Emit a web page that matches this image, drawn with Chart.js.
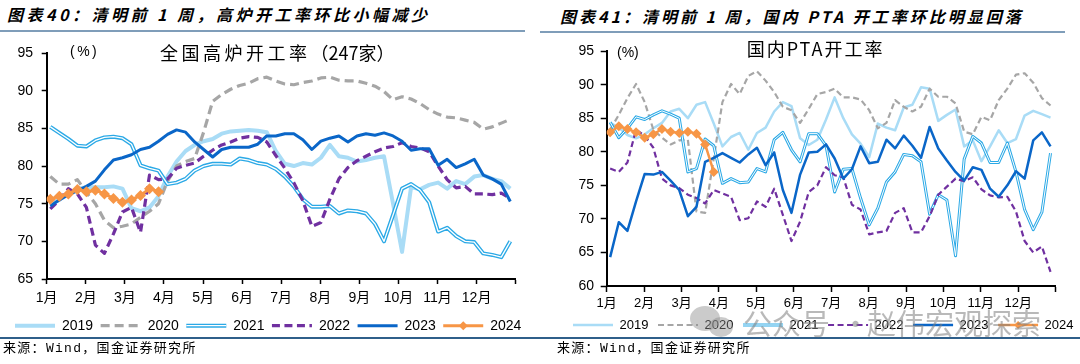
<!DOCTYPE html>
<html lang="zh-CN">
<head>
<meta charset="UTF-8"/>
<script src="https://cdn.jsdelivr.net/npm/chart.js"></script>
<style>
  body { margin:0; width:1080px; height:364px; background:#fff; position:relative; overflow:hidden; }
  canvas { position:absolute; top:36px; }
  .txt { position:absolute; white-space:nowrap; color:#000; font-family:"Noto Sans CJK SC", sans-serif; }
  .title { font-size:16px; line-height:16px; font-weight:bold; font-style:italic; letter-spacing:3.5px; }
  .rule { position:absolute; }
  .src { font-family:"Liberation Mono", "Noto Sans CJK SC", monospace; font-size:13px; line-height:13px; letter-spacing:1.3px; }
  .wm { position:absolute; white-space:nowrap; color:rgba(128,128,128,0.55); font-family:"Noto Sans CJK SC", sans-serif; font-size:29px; line-height:29px; }
  .bub { position:absolute; border-radius:50%; background:rgba(140,140,140,0.45); }
</style>
</head>
<body>
<div class="txt title" style="left:7px;top:6px">图表40：清明前 1 周，高炉开工率环比小幅减少</div>
<div class="txt title" style="left:560px;top:7.5px;letter-spacing:3px">图表41：清明前 1 周，国内 PTA 开工率环比明显回落</div>
<div class="rule" style="left:0;top:30px;width:525px;height:1.5px;background:#7f9db9"></div>
<div class="rule" style="left:540px;top:31px;width:525px;height:1.5px;background:#7f9db9"></div>

<canvas id="bfChart" width="540" height="310" style="left:0"></canvas>
<canvas id="ptaChart" width="560" height="310" style="left:540px"></canvas>

<div class="txt" style="left:70px;top:44px;font-family:Arial,'Liberation Sans',sans-serif;font-size:14px;line-height:14px;letter-spacing:2.5px">(%)</div>
<div class="txt" style="left:160px;top:42.7px;font-size:18px;line-height:18px"><span style="letter-spacing:3.5px">全国高炉开工率</span>（247家）</div>
<div class="txt" style="left:617px;top:44.7px;font-family:Arial,'Liberation Sans',sans-serif;font-size:14px;line-height:14px">(%)</div>
<div class="txt" style="left:746.7px;top:39.3px;font-size:18px;line-height:18px;letter-spacing:2px">国内PTA开工率</div>

<div class="rule" style="left:0;top:337px;width:1080px;height:1.5px;background:#2f5f8a"></div>
<div class="txt src" style="left:3px;top:342px">来源：Wind，国金证券研究所</div>
<div class="txt src" style="left:557px;top:342px">来源：Wind，国金证券研究所</div>

<div class="bub" style="left:690px;top:306px;width:30px;height:25px"></div>
<div class="bub" style="left:709px;top:317px;width:24px;height:20px"></div>
<div class="wm" style="left:743px;top:308px">公众号</div>
<div class="wm" style="left:841px;top:308px">·</div>
<div class="wm" style="left:867px;top:308px">赵伟宏观探索</div>

<script>
const monthLabels = ['1月', '2月', '3月', '4月', '5月', '6月', '7月', '8月', '9月', '10月', '11月', '12月'];
const yearLabels = ['2019', '2020', '2021', '2022', '2023', '2024'];

// 全国高炉开工率（247家），周度，%
const bf2019 = [75.0, 75.5, 76.3, 77.0, 77.2, 77.2, 77.2, 77.3, 77.0, 74.4, 74.0, 74.5, 76.0, 78.6, 80.6, 82.0, 82.8, 83.3, 83.6, 84.3,
  84.6, 84.7, 84.8, 84.7, 84.5, 82.0, 80.3, 80.0, 80.4, 80.2, 81.1, 82.8, 81.3, 81.1, 80.6, 80.8, 81.1, 81.3, 75.0, 68.6,
  77.2, 76.9, 77.5, 77.8, 77.0, 78.0, 77.6, 78.6, 78.8, 78.3, 78.0, 77.0];
const bf2020 = [78.6, 77.6, 77.6, 78.2, 76.5, 75.0, 72.8, 71.8, 72.0, 72.3, 73.2, 74.0, 75.0, 78.0, 80.0, 80.6, 81.0, 84.5, 88.6, 89.5,
  90.2, 90.7, 91.0, 91.6, 91.8, 91.3, 90.9, 90.8, 91.1, 91.3, 91.7, 91.8, 91.4, 91.3, 91.3, 91.0, 90.6, 89.9, 88.8, 89.2,
  88.9, 88.3, 87.5, 86.9, 86.5, 86.4, 86.1, 85.8, 84.9, 85.2, 85.7, 86.2];
const bf2021 = [85.2, 84.4, 83.6, 82.7, 82.6, 83.4, 83.8, 83.9, 83.7, 82.9, 80.1, 79.7, 79.4, 77.6, 77.8, 78.3, 79.4, 80.0, 80.3, 80.3,
  80.2, 81.0, 80.8, 80.4, 80.2, 79.6, 78.6, 77.3, 75.6, 74.6, 74.6, 74.7, 73.7, 74.1, 74.0, 73.7, 72.3, 70.0, 73.5, 77.0,
  77.6, 76.8, 75.2, 71.3, 71.8, 70.7, 70.0, 69.9, 68.4, 68.2, 67.9, 70.0];
const bf2022 = [74.3, 75.5, 77.0, 76.3, 74.5, 69.5, 68.4, 71.0, 73.9, 74.5, 71.2, 78.8, 78.2, 78.3, 79.7, 80.1, 80.4, 81.3, 82.1, 82.8,
  83.2, 83.7, 83.9, 83.8, 83.2, 81.4, 79.7, 77.8, 75.4, 72.0, 72.5, 75.6, 78.3, 79.8, 80.7, 81.3, 81.9, 82.4, 82.6, 83.1,
  82.6, 82.4, 81.9, 80.0, 78.2, 77.1, 77.3, 76.3, 76.3, 76.2, 76.4, 75.7];
const bf2023 = [74.7, 75.5, 76.2, 76.7, 77.3, 78.0, 79.5, 80.8, 81.1, 81.5, 82.2, 82.5, 83.3, 84.2, 84.8, 84.5, 83.2, 82.2, 81.2, 82.2,
  82.5, 82.5, 82.5, 82.9, 84.0, 84.0, 84.3, 84.3, 83.5, 82.2, 83.3, 83.7, 84.0, 83.2, 84.0, 84.3, 84.1, 84.4, 84.0, 83.3,
  82.1, 82.3, 82.3, 80.1, 80.9, 79.8, 80.3, 80.9, 78.8, 78.3, 77.6, 75.3];
const bf2024 = [75.6, 76.0, 76.3, 76.9, 76.6, 76.8, 76.3, 75.7, 75.2, 75.5, 76.1, 77.0, 76.6];

// 国内PTA开工率，周度，%
const pta2019 = [84.3, 83.6, 82.5, 82.0, 82.6, 83.5, 84.3, 86.0, 86.4, 85.0, 87.0, 87.4, 84.2, 80.8, 82.2, 82.8, 80.3, 82.8, 83.6, 86.0,
  87.4, 86.8, 82.0, 81.0, 81.8, 84.8, 88.1, 85.0, 82.6, 81.2, 79.2, 84.2, 83.6, 83.2, 86.6, 87.0, 89.6, 89.4, 84.6, 85.5,
  86.3, 80.8, 81.7, 78.6, 80.8, 83.2, 81.3, 81.9, 85.4, 86.1, 85.6, 85.1];
const pta2020 = [83.3, 85.5, 88.0, 90.1, 87.4, 83.3, 82.1, 81.1, 81.7, 81.8, 71.1, 70.9, 79.0, 87.4, 90.1, 88.6, 91.3, 92.0, 90.6, 88.9,
  86.7, 86.2, 84.3, 86.4, 88.6, 88.9, 89.4, 88.1, 88.1, 87.8, 86.2, 83.5, 84.3, 87.7, 86.7, 86.0, 86.7, 89.4, 88.2, 88.2,
  87.2, 83.0, 82.6, 85.2, 84.7, 87.7, 89.4, 91.5, 91.7, 90.3, 88.0, 86.9];
const pta2021 = [84.4, 82.1, 83.5, 85.2, 84.8, 85.5, 86.1, 85.6, 85.0, 77.0, 77.5, 81.9, 80.9, 75.3, 76.0, 75.4, 75.5, 77.5, 77.0, 81.8,
  82.9, 80.3, 78.5, 82.7, 82.7, 80.9, 74.0, 77.4, 77.5, 73.1, 69.1, 71.6, 75.5, 77.0, 79.6, 79.4, 78.5, 70.7, 73.6, 72.8,
  64.5, 78.9, 82.3, 81.3, 78.4, 78.4, 81.3, 77.0, 71.4, 68.4, 71.0, 79.8];
const pta2022 = [77.5, 77.0, 78.4, 83.3, 82.4, 80.6, 76.0, 75.0, 74.6, 73.6, 73.1, 72.3, 74.3, 73.8, 73.3, 69.8, 70.1, 72.6, 71.8, 74.5,
  70.6, 66.7, 69.6, 74.0, 75.0, 77.7, 76.5, 76.2, 72.1, 71.4, 67.7, 68.0, 68.2, 70.9, 71.6, 68.0, 68.0, 70.4, 73.6, 74.8,
  76.0, 75.6, 76.2, 74.4, 73.5, 73.2, 73.3, 71.1, 66.7, 65.0, 65.9, 62.1];
const pta2023 = [64.3, 69.5, 68.2, 72.6, 76.7, 76.6, 77.0, 75.7, 74.3, 70.4, 71.8, 78.5, 79.1, 79.8, 79.1, 78.4, 79.6, 80.6, 78.0, 79.9,
  74.3, 70.9, 76.6, 79.9, 80.0, 81.1, 79.0, 76.0, 77.4, 80.8, 78.3, 78.5, 81.8, 80.5, 82.4, 80.9, 79.1, 83.7, 80.5, 78.7,
  77.0, 75.7, 77.7, 77.3, 74.5, 73.3, 75.0, 77.1, 76.0, 81.7, 82.9, 80.8];
const pta2024 = [82.9, 83.8, 83.4, 82.9, 82.1, 82.6, 83.4, 83.0, 82.8, 83.0, 82.7, 81.1, 77.0];

const yearColors = ['#a9dcf6', '#a6a6a6', '#2ba9e6', '#7030a0', '#0a66c8', '#f79646'];

Chart.defaults.font.family = "Arial, 'Liberation Sans', 'Noto Sans CJK SC', sans-serif";

// week i of the year -> position on a 0..12 month axis
const weekX = i => (i + 0.4) * 12 / 52;
const toPoints = arr => arr.map((v, i) => ({x: weekX(i), y: v}));

function makeDatasets(series, st) {
  const base = {fill: false, pointRadius: 0, pointHoverRadius: 0, tension: 0, borderJoinStyle: 'round', yAxisID: 'y'};
  return [
    {...base, label: yearLabels[0], data: toPoints(series[0]), borderColor: yearColors[0], borderWidth: st.pale, order: 6},
    {...base, label: yearLabels[1], data: toPoints(series[1]), borderColor: yearColors[1], borderWidth: st.dash, borderDash: st.greyDash, order: 5},
    {...base, label: yearLabels[2], data: toPoints(series[2]), borderColor: yearColors[2], borderWidth: st.dbl, order: 4},
    {...base, label: '2021-inner', data: toPoints(series[2]), borderColor: '#ffffff', borderWidth: st.dblInner, order: 3},
    {...base, label: yearLabels[3], data: toPoints(series[3]), borderColor: yearColors[3], borderWidth: st.dash, borderDash: st.purpleDash, order: 2},
    {...base, label: yearLabels[4], data: toPoints(series[4]), borderColor: yearColors[4], borderWidth: st.solid, order: 1},
    {...base, label: yearLabels[5], data: toPoints(series[5]), borderColor: yearColors[5], borderWidth: st.solid,
      pointStyle: 'rectRot', pointRadius: st.diamond, pointBackgroundColor: yearColors[5], pointBorderWidth: 0, order: 0}
  ];
}

// white core of the 2021 double line and the diamond of 2024 in the legend
const legendMarks = {
  id: 'legendMarks',
  afterDraw(chart, args, o) {
    const lg = chart.legend;
    if (!lg || !lg.legendItems) return;
    const ctx = chart.ctx;
    ctx.save();
    lg.legendItems.forEach((it, k) => {
      const hb = lg.legendHitBoxes[k];
      const cy = hb.top + o.fontSize / 2;
      if (it.text === '2021') {
        ctx.strokeStyle = '#ffffff';
        ctx.lineWidth = o.inner;
        ctx.beginPath();
        ctx.moveTo(hb.left, cy);
        ctx.lineTo(hb.left + o.box, cy);
        ctx.stroke();
      }
      if (it.text === '2024') {
        const cx = hb.left + o.box / 2, r = o.diamond;
        ctx.fillStyle = it.strokeStyle;
        ctx.beginPath();
        ctx.moveTo(cx, cy - r); ctx.lineTo(cx + r, cy); ctx.lineTo(cx, cy + r); ctx.lineTo(cx - r, cy);
        ctx.closePath();
        ctx.fill();
      }
    });
    ctx.restore();
  }
};

function makeChart(id, series, c) {
  return new Chart(document.getElementById(id), {
    type: 'line',
    data: {datasets: makeDatasets(series, c.st)},
    options: {
      responsive: false, animation: false, devicePixelRatio: 1, events: [],
      layout: {padding: c.pad},
      scales: {
        x: {
          type: 'linear', min: 0, max: 12,
          border: {color: '#000', width: 2},
          grid: {drawOnChartArea: false, tickLength: c.xTick, tickColor: '#000', tickWidth: 1.5},
          ticks: {stepSize: 1, autoSkip: false, maxRotation: 0, padding: c.xPad, color: '#000', font: {size: c.xFont},
            callback: v => monthLabels[v] || ''},
          afterFit: s => { s.height = c.xHeight; }
        },
        y: {
          position: 'left', min: c.yMin, max: c.yMax,
          border: {color: '#000', width: 2},
          grid: {drawOnChartArea: false, tickLength: c.yTick, tickColor: '#000', tickWidth: 1.5},
          ticks: {stepSize: 5, padding: c.yPad, color: '#000', font: {size: 14}},
          afterFit: s => { s.width = c.yWidth; }
        },
        // empty spacer on the right so the legend may run past the x axis end
        spacer: {
          position: 'right', display: true,
          ticks: {display: false}, grid: {display: false}, border: {display: false},
          afterFit: s => { s.width = c.rWidth; }
        }
      },
      plugins: {
        tooltip: {enabled: false},
        legend: {
          position: 'bottom', align: 'start',
          labels: {
            usePointStyle: true, pointStyleWidth: 40, padding: c.legPad, color: '#000', font: {size: c.legFont},
            generateLabels: chart => chart.data.datasets
              .map((ds, i) => ({
                text: ds.label, datasetIndex: i, hidden: false, pointStyle: 'line',
                strokeStyle: ds.borderColor, fillStyle: ds.borderColor, lineWidth: ds.borderWidth,
                lineDash: ds.borderDash || [], fontColor: '#000'
              }))
              .filter(it => it.text !== '2021-inner')
          }
        },
        legendMarks: {inner: c.st.dblInner, diamond: c.legDiamond, fontSize: c.legFont, box: 40}
      }
    },
    plugins: [legendMarks]
  });
}

makeChart('bfChart', [bf2019, bf2020, bf2021, bf2022, bf2023, bf2024], {
  st: {pale: 4, dash: 3.2, greyDash: [9, 5], purpleDash: [8, 4.5], dbl: 4, dblInner: 1.3, solid: 3, diamond: 5.5},
  pad: {left: 7.5, right: 5, top: 10.7, bottom: 3.3},
  yMin: 65, yMax: 95, yWidth: 39.2, yTick: 5, yPad: 8.7, rWidth: 19.3,
  xTick: 5, xPad: 5.9, xFont: 14, xHeight: 32.2,
  legPad: 7.5, legFont: 14, legDiamond: 4.5
});

makeChart('ptaChart', [pta2019, pta2020, pta2021, pta2022, pta2023, pta2024], {
  st: {pale: 2.5, dash: 2.2, greyDash: [6, 3.5], purpleDash: [6, 3.5], dbl: 3, dblInner: 1, solid: 2.5, diamond: 5},
  pad: {left: 23.4, right: 5, top: 10, bottom: 4.5},
  yMin: 60, yMax: 95, yWidth: 43.3, yTick: 6, yPad: 6.7, rWidth: 39.3,
  xTick: 6, xPad: 3.2, xFont: 13, xHeight: 22.9,
  legPad: 9.6, legFont: 13, legDiamond: 4
});
</script>
</body>
</html>
